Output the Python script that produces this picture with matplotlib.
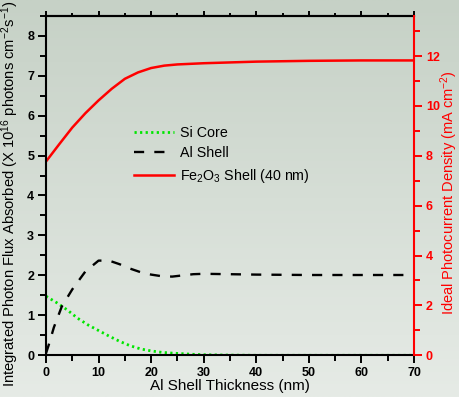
import numpy as np
import matplotlib
matplotlib.use("Agg")
import matplotlib.pyplot as plt
from matplotlib.ticker import MultipleLocator

plt.rcParams["font.family"] = ["Liberation Sans", "DejaVu Sans"]
plt.rcParams["mathtext.fontset"] = "custom"
plt.rcParams["mathtext.rm"] = "Liberation Sans"
plt.rcParams["mathtext.it"] = "Liberation Sans:italic"
plt.rcParams["mathtext.bf"] = "Liberation Sans:bold"

# Fe2O3 shell (40 nm)
fe_x = [0, 2.5, 5, 7.5, 10, 12.5, 15, 17.5, 20, 22.5, 25, 30, 35, 40, 50, 60, 70]
fe_y = [4.85, 5.28, 5.70, 6.06, 6.38, 6.67, 6.92, 7.08, 7.19, 7.25, 7.28, 7.31, 7.33, 7.35, 7.37, 7.38, 7.38]

# Al shell
al_x = [0, 0.5, 1.5, 3, 5, 7.5, 10, 12, 14, 16, 18, 20, 22, 24, 26, 28, 30, 35, 40, 50, 60, 70]
al_y = [0.05, 0.25, 0.70, 1.22, 1.65, 2.10, 2.37, 2.37, 2.28, 2.17, 2.08, 2.02, 1.98, 1.97, 2.00, 2.03, 2.04, 2.03, 2.02, 2.01, 2.01, 2.01]

# Si core
si_x = [0, 2, 4, 6, 8, 10, 12, 14, 16, 18, 20, 22, 24, 26, 28, 30, 35, 40, 50, 60, 70]
si_y = [1.48, 1.32, 1.14, 0.93, 0.76, 0.62, 0.48, 0.35, 0.24, 0.16, 0.11, 0.075, 0.055, 0.04, 0.025, 0.015, 0.005, 0, 0, 0, 0]

flux_to_current = 1.602  # mA cm^-2 per 1e16 photons cm^-2 s^-1

fig = plt.figure(figsize=(4.59, 3.97), dpi=100)

# gradient background
bg = fig.add_axes([0, 0, 1, 1], zorder=-10)
top_c = np.array([198, 209, 198]) / 255.0
bot_c = np.array([230, 235, 230]) / 255.0
t = np.linspace(0, 1, 256)[:, None]
grad = top_c[None, :] * (1 - t) + bot_c[None, :] * t
bg.imshow(grad[:, None, :], aspect="auto", extent=[0, 1, 0, 1])
bg.axis("off")

ax = fig.add_axes([0.1002, 0.105, 0.8018, 0.8555])
ax.patch.set_alpha(0)

ax.plot(si_x, si_y, color="#00e600", linestyle=(0, (0.8, 1.2)), linewidth=2.0, label="Si Core")
ax.plot(al_x, al_y, color="black", linestyle=(0, (4.3, 4.3)), linewidth=1.7, label="Al Shell")
ax.plot(fe_x, fe_y, color="#ff0000", linewidth=1.8, label="Fe$_2$O$_3$ Shell (40 nm)")

ax.set_xlim(0, 70)
ax.set_ylim(0, 8.5)
ax.xaxis.set_major_locator(MultipleLocator(10))
ax.xaxis.set_minor_locator(MultipleLocator(5))
ax.yaxis.set_major_locator(MultipleLocator(1))
ax.yaxis.set_minor_locator(MultipleLocator(0.5))
ax.tick_params(which="both", direction="out", width=1.4, labelsize=9, pad=3)
ax.tick_params(which="major", length=5.5)
ax.tick_params(which="minor", length=4)
for lbl in ax.get_xticklabels() + ax.get_yticklabels():
    lbl.set_fontweight("bold")
for s in ["left", "bottom", "top"]:
    ax.spines[s].set_linewidth(1.5)
ax.spines["right"].set_visible(False)

top = ax.secondary_xaxis("top")
top.xaxis.set_major_locator(MultipleLocator(10))
top.xaxis.set_minor_locator(MultipleLocator(5))
top.tick_params(which="both", direction="out", width=1.4, labelsize=0, labeltop=False)
top.tick_params(which="major", length=3.5)
top.tick_params(which="minor", length=2.5)
top.spines["top"].set_linewidth(1.5)

ax.set_xlabel("Al Shell Thickness (nm)", fontsize=11, labelpad=0)
ax.set_ylabel("Integrated Photon Flux Absorbed (X 10$^{16}$ photons cm$^{-2}$s$^{-1}$)",
              fontsize=10.6)
ax.yaxis.set_label_coords(-0.068, 0.474)

ax2 = ax.twinx()
ax2.set_ylim(0, 8.5 * flux_to_current)
ax2.yaxis.set_major_locator(MultipleLocator(2))
ax2.yaxis.set_minor_locator(MultipleLocator(1))
ax2.tick_params(which="both", direction="out", width=1.4, colors="#ff0000", labelsize=9, pad=3)
ax2.tick_params(which="major", length=5.5)
ax2.tick_params(which="minor", length=4)
for lbl in ax2.get_yticklabels():
    lbl.set_fontweight("bold")
for s in ["left", "bottom", "top"]:
    ax2.spines[s].set_visible(False)
ax2.spines["right"].set_color("#ff0000")
ax2.spines["right"].set_linewidth(1.5)
ax2.set_ylabel("Ideal Photocurrent Density (mA cm$^{-2}$)", color="#ff0000", fontsize=10.5)
ax2.yaxis.set_label_coords(1.067, 0.478)

leg = ax.legend(loc="upper left", bbox_to_anchor=(0.24, 0.675), frameon=False,
                fontsize=10.3, handlelength=2.8, handletextpad=0.4, labelspacing=0.45,
                borderaxespad=0, borderpad=0)

fig.savefig("out.png", dpi=100)
